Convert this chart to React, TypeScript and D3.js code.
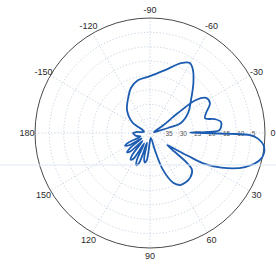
import React, { useEffect, useRef } from 'react';
import * as d3 from 'd3';

const WIDTH = 276;
const HEIGHT = 264;

// angle labels (deg, clockwise from the right)
const angleTicks = [0, -30, -60, -90, -120, -150, 180, 150, 120, 90, 60, 30];
// ring labels (level, center is 40, rim is 0)
const ringTicks = [35, 30, 25, 20, 15, 10, 5];

// pattern, in order
const patternAngles = [
  -12, -30, -35.5, -35.7, -32, -26.6, -19.6, -15, -12, -8.8, -4.8, -2, -1, -0.6,
  0.3, 0.6, 1.2, 3, 7, 13, 19.7, 26, 29.4, 31, 33, 35, 39, 41.4, 48, 54, 60, 65,
  70.6, 74, 80, 90, 97, 100, 103, 107, 110, 113, 116, 119, 123, 126, 129, 133,
  137, 140, 143, 147, 150, 153, 156, 160, 168, 176, 180, 184, -170, -158, -152,
  -149.5, -135, -121, -113, -103, -90, -76.6, -66, -60.3, -55.7, -49, -38.8,
  -27.8, -18, -15.5, -14,
];
const patternLevels = [
  38.6, 34.8, 28.2, 20.3, 17.0, 16.7, 19.3, 20.2, 16.9, 15.0, 15.2, 16.0, 20.9, 26.1,
  19.1, 12.2, 5.2, 2.4, 0, 0.3, 4.9, 12.5, 18.1, 24.3, 29.9, 32.7, 23.4, 20.5, 19.1, 18.8, 19.1, 20.9,
  26.4, 33.7, 38.3, 37.2, 30.3, 29.6, 31.0, 36.5, 28.9, 27.8, 29.6, 35.8, 29.2, 28.5, 30.3, 36.2,
  30.6, 29.6, 31.3, 36.5, 31.3, 30.3, 31.7, 36.5, 35.1, 34.4, 34.1, 35.1, 37.9, 37.2, 34.8,
  33.0, 28.7, 25.4, 23.0, 21.2, 20.2, 17.5, 13.4, 12.0, 13.5, 17.0, 21.7,
  25.0, 28.7, 33.5, 37.2,
];

const CX = 150;
const CY = 133;
const R = 115;

const App: React.FC = () => {
  const svgRef = useRef<SVGSVGElement>(null);

  useEffect(() => {
    const svg = d3.select(svgRef.current);
    svg.selectAll('*').remove();

    const rScale = d3.scaleLinear().domain([40, 0]).range([0, R]);
    const rad = (deg: number) => (deg * Math.PI) / 180;

    const g = svg.append('g').attr('transform', `translate(${CX},${CY})`);

    // scan streak
    svg.append('line')
      .attr('x1', 0).attr('x2', WIDTH)
      .attr('y1', 165).attr('y2', 165)
      .attr('stroke', '#dfe8f3')
      .attr('stroke-width', 1);

    // rings
    const ringStep = d3.range(1, 8).map(i => 40 - i * 5);
    g.selectAll('.ring')
      .data(ringStep)
      .enter()
      .append('circle')
      .attr('r', d => rScale(d))
      .attr('fill', 'none')
      .attr('stroke', '#b9c7da')
      .attr('stroke-width', 0.8)
      .attr('stroke-dasharray', '1.2,2');

    // spokes
    g.selectAll('.spoke')
      .data(d3.range(0, 180, 30))
      .enter()
      .append('line')
      .attr('x1', d => -R * Math.cos(rad(d)))
      .attr('y1', d => -R * Math.sin(rad(d)))
      .attr('x2', d => R * Math.cos(rad(d)))
      .attr('y2', d => R * Math.sin(rad(d)))
      .attr('stroke', '#b9c7da')
      .attr('stroke-width', 0.8)
      .attr('stroke-dasharray', '1.2,2');

    // outer rim
    g.append('circle')
      .attr('r', R)
      .attr('fill', 'none')
      .attr('stroke', '#4a4a4a')
      .attr('stroke-width', 1);

    // angle labels
    g.selectAll('.alabel')
      .data(angleTicks)
      .enter()
      .append('text')
      .attr('x', d => 123 * Math.cos(rad(d)))
      .attr('y', d => 123 * Math.sin(rad(d)))
      .attr('text-anchor', 'middle')
      .attr('dominant-baseline', 'central')
      .style('font-family', 'Liberation Sans, Arial, sans-serif')
      .style('font-size', '9px')
      .style('fill', '#2a2a2a')
      .text(d => String(d));

    // ring labels along 0 deg
    g.selectAll('.rlabel')
      .data(ringTicks)
      .enter()
      .append('text')
      .attr('x', d => rScale(d) + 1)
      .attr('y', 0)
      .attr('dominant-baseline', 'central')
      .style('font-family', 'Liberation Sans, Arial, sans-serif')
      .style('font-size', '6.5px')
      .style('fill', '#555')
      .text(d => String(d));

    // pattern
    const pts = patternAngles.map((a, i) => [a, patternLevels[i]] as [number, number]);
    const line = d3.lineRadial<[number, number]>()
      .angle(d => rad(d[0] + 90))
      .radius(d => rScale(d[1]))
      .curve(d3.curveCatmullRomClosed.alpha(0.5));

    g.append('path')
      .attr('d', line(pts))
      .attr('fill', 'none')
      .attr('stroke', '#1c5cb0')
      .attr('stroke-width', 1.8)
      .attr('stroke-linejoin', 'round');
  }, []);

  return (
    <svg
      ref={svgRef}
      width={WIDTH}
      height={HEIGHT}
      style={{ position: 'absolute', left: 0, top: 0, background: '#fff' }}
    />
  );
};

export default App;
